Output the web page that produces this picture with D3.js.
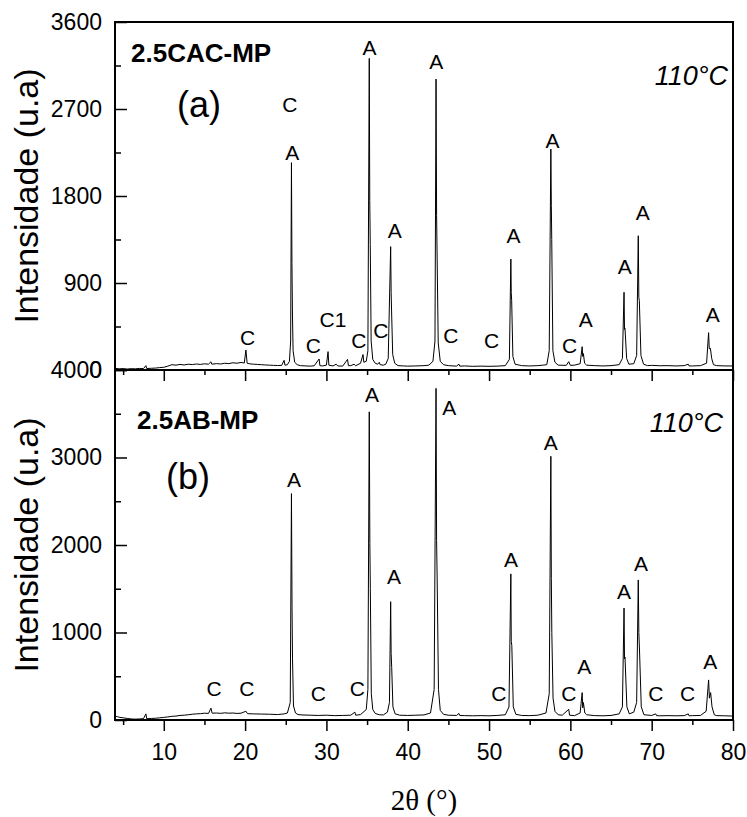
<!DOCTYPE html>
<html><head><meta charset="utf-8">
<script src="https://cdn.jsdelivr.net/npm/d3@7"></script>
<style>
body{margin:0;background:#fff;}
text{font-family:Arial,"Liberation Sans",sans-serif;fill:#000;}
</style></head>
<body><svg id="c" width="747" height="817"></svg>
<script>
// ---------- data ----------
const xTicks = [10,20,30,40,50,60,70,80];
const xMinorTicks = [5,15,25,35,45,55,65,75];
const yTicksA = [0,900,1800,2700,3600];
const yMinorA = [450,1350,2250,3150];
const yTicksB = [0,1000,2000,3000,4000];
const yMinorB = [500,1500,2500,3500];

// pattern (a) 2.5CAC-MP : [2theta, intensity]
const patternA = [
 [4.0,18],[4.5,12],[5.0,15],[5.5,10],[6.0,14],[6.5,12],[7.0,16],[7.5,14],[7.8,45],[7.9,15],[8.5,18],[9.0,20],[9.5,25],[10.0,28],[10.5,40],[11.0,55],[11.5,50],[12.0,58],[12.5,52],[13.0,60],[13.5,56],[14.0,62],[14.5,58],[15.0,64],[15.5,60],[15.8,85],[15.9,60],[16.5,66],[17.0,62],[17.5,70],[18.0,66],[18.5,75],[19.0,70],[19.5,78],[19.9,72],[20.1,207],[20.25,70],[20.5,65],[21.0,60],[21.5,58],[22.0,55],[22.5,52],[23.0,50],[23.5,48],[24.0,46],[24.5,48],[24.8,100],[24.9,50],
 [25.2,55],[25.45,90],[25.6,300],[25.7,2145],[25.76,1100],[25.82,600],[25.9,200],[26.1,80],[26.4,55],
 [26.8,45],[27.5,42],[28.0,40],[28.5,44],[29.1,114],[29.2,45],[29.5,42],[30.0,50],[30.2,190],[30.3,50],[30.8,42],[31.2,60],[31.4,42],[32.0,40],[32.6,110],[32.7,45],[33.0,45],[33.4,60],[33.6,44],[34.2,70],[34.5,160],[34.6,80],
 [34.9,90],[35.1,200],[35.27,3224],[35.33,1750],[35.39,1300],[35.5,300],[35.7,110],[36.0,70],
 [36.3,60],[36.5,80],[36.6,55],[37.0,50],[37.3,60],
 [37.6,120],[37.9,1276],[37.96,800],[38.01,620],[38.15,160],[38.4,70],
 [38.8,45],[39.5,42],[40.0,40],[41.0,42],[42.0,45],[42.6,50],
 [43.1,90],[43.35,300],[43.48,3010],[43.55,1600],[43.61,1200],[43.75,280],[44.0,90],[44.4,55],
 [45.0,45],[46.0,40],[46.3,60],[46.4,40],[47.0,42],[48.0,38],[49.0,40],[50.0,38],[51.0,40],[52.0,45],
 [52.5,110],[52.68,1148],[52.73,800],[52.78,720],[52.93,140],[53.2,60],
 [54.0,45],[55.0,42],[56.0,45],[56.6,50],
 [57.1,55],[57.4,200],[57.6,2286],[57.66,1700],[57.71,1350],[57.85,200],[58.1,80],
 [58.5,50],[59.5,48],[59.8,86],[60.0,48],[60.5,50],
 [61.2,65],[61.45,241],[61.52,140],[61.6,170],[61.75,70],
 [62.0,50],[63.0,45],[64.0,42],[65.0,45],[66.0,55],
 [66.4,120],[66.6,804],[66.66,420],[66.72,430],[66.92,120],[67.2,60],
 [67.8,65],[68.15,150],[68.35,1389],[68.42,750],[68.48,720],[68.68,150],[69.0,60],
 [69.5,45],[70.0,48],[71.0,44],[72.0,45],[73.0,42],[74.0,45],[74.5,60],[74.6,42],[75.0,42],[76.0,45],
 [76.75,70],[77.0,386],[77.08,220],[77.22,225],[77.38,120],[77.6,55],
 [78.0,45],[79.0,42],[80.0,42]
];

// pattern (b) 2.5AB-MP
const patternB = [
 [4.0,45],[4.3,38],[4.6,30],[5.0,25],[5.5,18],[6.0,12],[6.5,10],[7.0,12],[7.5,15],[7.8,70],[7.9,15],[8.5,18],[9.0,20],[9.5,25],[10.0,30],[10.5,35],[11.0,42],[11.5,45],[12.0,52],[12.5,55],[13.0,60],[13.5,66],[14.0,70],[14.5,72],[15.0,78],[15.5,75],[15.8,135],[15.95,78],[16.5,80],[17.0,76],[17.5,82],[18.0,78],[18.5,80],[19.0,75],[19.5,78],[20.1,100],[20.3,72],[21.0,70],[22.0,68],[23.0,66],[24.0,62],[24.8,70],
 [25.2,80],[25.55,200],[25.7,2587],[25.77,1300],[25.83,700],[25.95,160],[26.2,80],[26.5,62],
 [27.0,58],[28.0,55],[29.0,52],[30.0,55],[31.0,50],[32.0,52],[33.0,55],[33.5,90],[33.6,55],[34.2,62],
 [34.9,120],[35.1,350],[35.27,3522],[35.34,2017],[35.4,1500],[35.52,300],[35.7,120],[36.0,75],
 [36.5,60],[37.0,58],[37.5,90],
 [37.75,200],[37.9,1352],[37.96,760],[38.03,600],[38.18,150],[38.45,70],
 [39.0,55],[40.0,52],[41.0,55],[42.0,58],[42.8,80],
 [43.25,350],[43.48,3790],[43.55,2050],[43.62,1600],[43.78,350],[44.0,110],[44.4,65],
 [45.0,55],[46.0,52],[46.3,75],[46.4,52],[47.0,50],[48.0,48],[49.0,50],[50.0,48],[51.0,52],[52.0,60],
 [52.45,150],[52.68,1670],[52.73,900],[52.8,850],[52.98,150],[53.3,65],
 [54.0,52],[55.0,50],[56.0,55],[57.0,80],
 [57.4,300],[57.6,3014],[57.66,1616],[57.72,1000],[57.87,250],[58.1,100],
 [58.5,60],[59.0,55],[59.8,122],[59.9,55],[60.5,50],
 [61.2,80],[61.45,313],[61.52,140],[61.6,200],[61.78,80],
 [62.0,60],[63.0,50],[64.0,48],[65.0,52],[66.0,70],
 [66.4,150],[66.6,1280],[66.66,700],[66.72,720],[66.95,150],[67.25,70],
 [67.8,90],[68.15,200],[68.35,1601],[68.42,1000],[68.5,800],[68.72,150],[69.05,60],
 [70.0,52],[70.5,70],[70.6,50],[71.0,48],[72.0,50],[73.0,48],[74.0,50],[74.5,70],[74.6,48],[75.0,50],[76.0,52],
 [76.7,100],[77.0,458],[77.1,250],[77.25,313],[77.42,150],[77.7,60],
 [78.0,50],[79.0,48],[80.0,45]
];

// peak labels: [text, 2theta, intensity(baseline)]
const labelsA = [
 ["C",20.3,259],["A",25.8,2170],["C",25.5,2670],["C",28.4,175],["C1",30.8,448],["C",34.0,224],["C",36.7,328],
 ["A",35.3,3260],["A",38.4,1362],["A",43.5,3110],["C",45.3,276],["C",50.3,224],["A",53.0,1310],["A",57.8,2293],
 ["C",59.9,172],["A",61.9,448],["A",66.7,990],["A",68.9,1552],["A",77.5,500]
];
const labelsB = [
 ["C",16.2,275],["C",20.2,275],["C",29.0,218],["C",33.8,275],["A",26.0,2662],["A",35.6,3637],["A",38.3,1555],
 ["A",45.1,3484],["C",51.2,218],["A",52.7,1746],["A",57.6,3083],["C",59.8,218],["A",61.7,524],["A",66.6,1383],
 ["A",68.7,1708],["C",70.5,218],["C",74.4,218],["A",77.2,581]
];

const panels = [
 {id:"a", sample:"2.5CAC-MP", tag:"(a)", data:patternA, labels:labelsA, ymax:3600, ticks:yTicksA, minor:yMinorA},
 {id:"b", sample:"2.5AB-MP", tag:"(b)", data:patternB, labels:labelsB, ymax:4000, ticks:yTicksB, minor:yMinorB}
];

// ---------- layout ----------
const L = 115, R = 733;
const panelBox = [{top:22, bottom:370},{top:370, bottom:720}];

const svg = d3.select("#c");
const x = d3.scaleLinear().domain([4,80]).range([L,R]);

panels.forEach((p,i)=>{
  const box = panelBox[i];
  const y = d3.scaleLinear().domain([0,p.ymax]).range([box.bottom, box.top]);
  const g = svg.append("g");

  g.append("path").datum(p.data)
    .attr("d", d3.line().x(d=>x(d[0])).y(d=>y(d[1])))
    .attr("fill","none").attr("stroke","#000").attr("stroke-width",1);

  const ya = g.append("g").attr("transform",`translate(${L},0)`)
    .call(d3.axisLeft(y).tickValues(p.ticks).tickSize(-12).tickPadding(13).tickFormat(d3.format("d")));
  ya.select(".domain").remove();
  ya.selectAll("text").style("font-size","23px").style("font-family","Arial, 'Liberation Sans', sans-serif");
  ya.selectAll("line").attr("stroke-width",1.5);
  const ym = g.append("g").attr("transform",`translate(${L},0)`)
    .call(d3.axisLeft(y).tickValues(p.minor).tickSize(-6).tickFormat(""));
  ym.select(".domain").remove();
  ym.selectAll("line").attr("stroke-width",1.5);

  const xa = g.append("g").attr("transform",`translate(0,${box.bottom})`)
    .call(d3.axisBottom(x).tickValues(xTicks).tickSize(11).tickPadding(13).tickFormat(i===1?d3.format("d"):""));
  xa.select(".domain").remove();
  xa.selectAll("text").style("font-size","23px").style("font-family","Arial, 'Liberation Sans', sans-serif");
  xa.selectAll("line").attr("stroke-width",1.5);
  const xm = g.append("g").attr("transform",`translate(0,${box.bottom})`)
    .call(d3.axisBottom(x).tickValues(xMinorTicks).tickSize(5).tickFormat(""));
  xm.select(".domain").remove();
  xm.selectAll("line").attr("stroke-width",1.5);

  g.append("rect").attr("x",L).attr("y",box.top).attr("width",R-L).attr("height",box.bottom-box.top)
    .attr("fill","none").attr("stroke","#000").attr("stroke-width",2);

  g.selectAll("text.pk").data(p.labels).join("text").attr("class","pk")
    .attr("x",d=>x(d[1])).attr("y",d=>y(d[2]))
    .attr("text-anchor","middle").style("font-size","21px").text(d=>d[0]);

  g.append("text").attr("transform",`translate(38,${(box.top+box.bottom)/2}) rotate(-90)`)
    .attr("text-anchor","middle").style("font-size","34px").text("Intensidade (u.a)");
});

svg.append("text").attr("x",131).attr("y",62).style("font-size","26px").style("font-weight","bold").text(panels[0].sample);
svg.append("text").attr("x",199).attr("y",117).attr("text-anchor","middle").style("font-size","36px").text(panels[0].tag);
svg.append("text").attr("x",728).attr("y",85).attr("text-anchor","end").style("font-size","27px").style("font-style","italic").text("110°C");
svg.append("text").attr("x",137).attr("y",429).style("font-size","26px").style("font-weight","bold").text(panels[1].sample);
svg.append("text").attr("x",188).attr("y",489).attr("text-anchor","middle").style("font-size","36px").text(panels[1].tag);
svg.append("text").attr("x",723).attr("y",432).attr("text-anchor","end").style("font-size","27px").style("font-style","italic").text("110°C");

svg.append("text").attr("x",424).attr("y",810).attr("text-anchor","middle")
  .style("font-family","'Liberation Serif','Times New Roman',serif").style("font-size","29px").text("2θ (°)");
</script></body></html>
